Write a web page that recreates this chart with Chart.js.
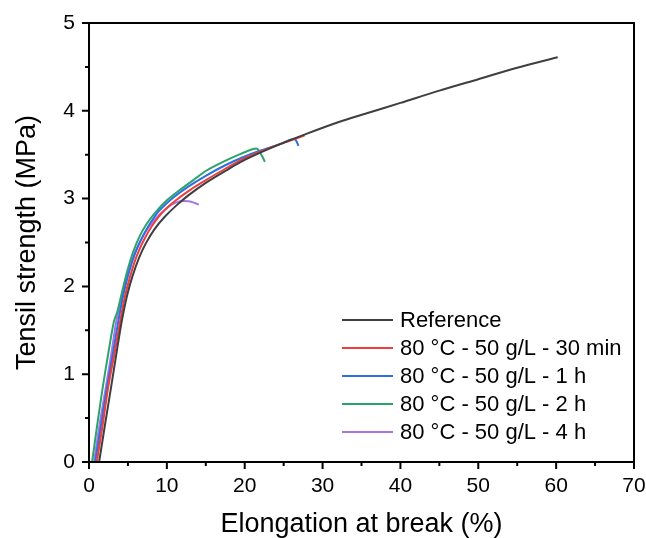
<!DOCTYPE html>
<html>
<head>
<meta charset="utf-8">
<script src="https://cdn.jsdelivr.net/npm/chart.js@4/dist/chart.umd.min.js"></script>
<style>
  body { margin: 0; background: #fff; }
  #wrap { width: 646px; height: 538px; }
</style>
</head>
<body>
<div id="wrap"><canvas id="tensile"></canvas></div>
<script>
// strain (%) / stress (MPa) for each sample
const refX = [1.3, 2.1, 2.87, 3.55, 4.2, 4.9, 5.6, 6.4, 7.3, 8.4, 9.7, 11.2, 12.8, 15, 17.6, 20, 24, 28, 32, 36, 40, 45, 50, 55, 60.2];
const refY = [0, 0.45, 0.87, 1.25, 1.6, 1.9, 2.12, 2.32, 2.49, 2.65, 2.79, 2.92, 3.04, 3.18, 3.32, 3.44, 3.6, 3.74, 3.87, 3.98, 4.09, 4.23, 4.36, 4.49, 4.61];

const min30X = [1.0, 1.8, 2.5, 3.3, 4.0, 4.6, 5.3, 6.1, 7.0, 8.1, 9.4, 11, 13, 15, 17.5, 20, 23, 25.5, 27.7];
const min30Y = [0, 0.45, 0.87, 1.25, 1.6, 1.88, 2.12, 2.34, 2.52, 2.69, 2.84, 2.97, 3.1, 3.21, 3.34, 3.46, 3.57, 3.65, 3.72];

const h1X = [0.8, 1.6, 2.35, 3.1, 3.76, 4.4, 5.1, 5.9, 6.8, 7.8, 9, 10.8, 12.8, 15, 17.5, 20, 22.5, 24.5, 26.2, 26.6, 26.9];
const h1Y = [0, 0.45, 0.87, 1.25, 1.6, 1.9, 2.15, 2.37, 2.55, 2.71, 2.86, 3.01, 3.14, 3.26, 3.38, 3.48, 3.56, 3.62, 3.68, 3.66, 3.6];

const h2X = [0.4, 1.1, 1.8, 2.5, 3.2, 3.6, 4.2, 4.9, 5.7, 6.5, 7.4, 8.5, 10, 11.7, 13.4, 15.1, 17.5, 19.5, 21.5, 22.0, 22.6];
const h2Y = [0, 0.45, 0.87, 1.25, 1.6, 1.7, 1.92, 2.17, 2.4, 2.57, 2.71, 2.84, 2.98, 3.1, 3.21, 3.32, 3.43, 3.51, 3.57, 3.52, 3.42];

const h4X = [0.65, 1.4, 2.2, 2.9, 3.5, 4.2, 4.9, 5.7, 6.6, 7.7, 9.2, 10.6, 11.7, 12.8, 13.6, 14.1];
const h4Y = [0, 0.45, 0.87, 1.25, 1.6, 1.88, 2.12, 2.34, 2.52, 2.68, 2.83, 2.93, 2.97, 2.97, 2.95, 2.93];

const seriesLabels = ['Reference', '80 °C - 50 g/L - 30 min', '80 °C - 50 g/L - 1 h', '80 °C - 50 g/L - 2 h', '80 °C - 50 g/L - 4 h'];
const seriesColors = ['#3f3f3f', '#f03c3c', '#2c6fe0', '#2ca36a', '#a875e6'];

const toPoints = (xs, ys) => xs.map((x, i) => ({ x: x, y: ys[i] }));
const curves = [[refX, refY], [min30X, min30Y], [h1X, h1Y], [h2X, h2Y], [h4X, h4Y]];

const FONT = 'Liberation Sans, Arial, sans-serif';

// box frame, outward tick marks (major + minor) and the legend
const frame = {
  id: 'frame',
  afterDraw(chart) {
    const ctx = chart.ctx;
    const a = chart.chartArea;
    ctx.save();
    ctx.strokeStyle = '#000';
    ctx.lineWidth = 2;
    ctx.strokeRect(a.left, a.top, a.right - a.left, a.bottom - a.top);

    const xs = chart.scales.x, ys = chart.scales.y;
    ctx.beginPath();
    xs.ticks.forEach(t => {
      const px = xs.getPixelForValue(t.value);
      const len = t.value % 10 === 0 ? 7 : 4;
      ctx.moveTo(px, a.bottom);
      ctx.lineTo(px, a.bottom + len);
    });
    ys.ticks.forEach(t => {
      const py = ys.getPixelForValue(t.value);
      const len = Number.isInteger(t.value) ? 7 : 4;
      ctx.moveTo(a.left, py);
      ctx.lineTo(a.left - len, py);
    });
    ctx.stroke();

    // legend
    ctx.font = '22px ' + FONT;
    ctx.textBaseline = 'middle';
    ctx.fillStyle = '#000';
    chart.data.datasets.forEach((ds, i) => {
      const y = 320 + i * 28;
      ctx.strokeStyle = ds.borderColor;
      ctx.lineWidth = 2;
      ctx.beginPath();
      ctx.moveTo(342, y);
      ctx.lineTo(393, y);
      ctx.stroke();
      ctx.fillText(ds.label, 400, y + 1);
    });
    ctx.restore();
  }
};

new Chart(document.getElementById('tensile'), {
  type: 'scatter',
  data: {
    datasets: curves.map((c, i) => ({
      label: seriesLabels[i],
      data: toPoints(c[0], c[1]),
      showLine: true,
      borderColor: seriesColors[i],
      backgroundColor: seriesColors[i],
      borderWidth: 2,
      pointRadius: 0,
      tension: 0.3
    }))
  },
  options: {
    responsive: true,
    maintainAspectRatio: false,
    animation: false,
    layout: { padding: { top: 23, right: 12, left: 0, bottom: 0 } },
    plugins: {
      legend: { display: false },
      tooltip: { enabled: false }
    },
    scales: {
      x: {
        type: 'linear',
        min: 0, max: 70,
        afterFit(scale) {
          scale.height = 76;
          scale.paddingLeft = 0;
          scale.paddingRight = 0;
        },
        grid: { display: false, drawTicks: false },
        border: { display: false },
        ticks: {
          stepSize: 5,
          padding: 12,
          maxRotation: 0,
          color: '#000',
          font: { family: FONT, size: 21 },
          callback: v => (v % 10 === 0 ? v : '')
        },
        title: {
          display: true,
          text: 'Elongation at break (%)',
          color: '#000',
          font: { family: FONT, size: 27, lineHeight: 1 },
          padding: { top: 4, bottom: 0 }
        }
      },
      y: {
        type: 'linear',
        min: 0, max: 5,
        afterFit(scale) {
          scale.width = 89;
          scale.paddingTop = 0;
          scale.paddingBottom = 0;
        },
        grid: { display: false, drawTicks: false },
        border: { display: false },
        ticks: {
          stepSize: 0.5,
          padding: 14,
          color: '#000',
          font: { family: FONT, size: 21 },
          callback: v => (Number.isInteger(v) ? v : '')
        },
        title: {
          display: true,
          text: 'Tensil strength (MPa)',
          color: '#000',
          font: { family: FONT, size: 27, lineHeight: 1 },
          padding: { top: 14, bottom: 0 }
        }
      }
    }
  },
  plugins: [frame]
});
</script>
</body>
</html>
